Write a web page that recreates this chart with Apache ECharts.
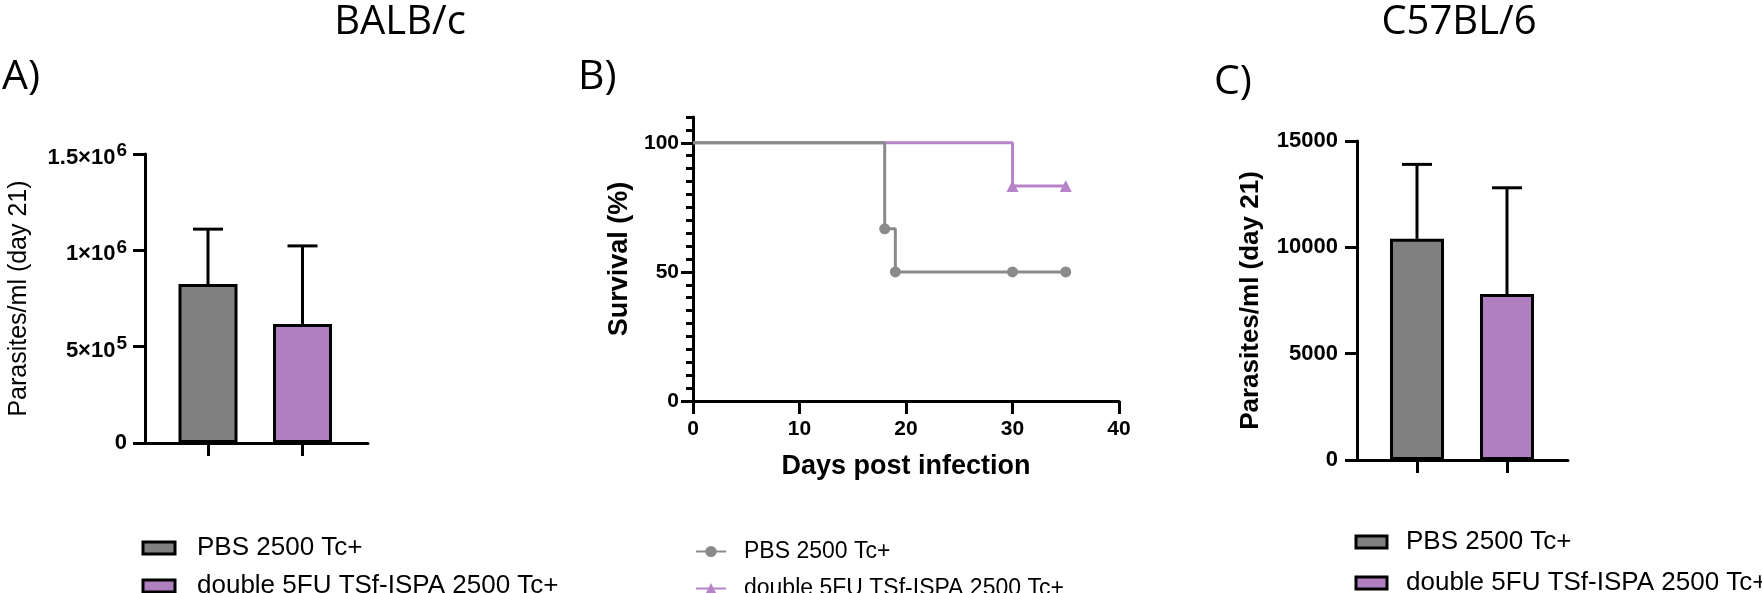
<!DOCTYPE html>
<html>
<head>
<meta charset="utf-8">
<script src="https://cdn.jsdelivr.net/npm/echarts@6/dist/echarts.min.js"></script>
<style>
  html, body { margin: 0; padding: 0; background: #fff; }
  #chart { width: 1762px; height: 593px; }
</style>
</head>
<body>
<div id="chart"></div>
<script>
// groups shown in every panel
const groupNames = ['PBS 2500 Tc+', 'double 5FU TSf-ISPA 2500 Tc+'];
const groupPos = [1, 2];

// A) BALB/c parasites/ml at day 21 (mean, SD)
const balbMean = [825000, 618000];
const balbSD = [285000, 405000];
const balbTickValues = [0, 500000, 1000000, 1500000];
const balbTickMant = ['0', '5×10', '1×10', '1.5×10'];
const balbTickExp = ['', '5', '6', '6'];

// B) survival (%)
const pbsDays = [0, 18, 19, 30, 35];
const pbsSurv = [100, 66.7, 50, 50, 50];
const fuDays = [0, 30, 35];
const fuSurv = [100, 83.3, 83.3];
const survLabels = [0, 50, 100];

// C) C57BL/6 parasites/ml at day 21 (mean, SD)
const c57Mean = [10400, 7800];
const c57SD = [3500, 5000];

const GRAY = '#808080';
const PURPLE = '#b07fc0';
const LGRAY = '#8a8a8a';
const LPURPLE = '#b784c9';
const SANS = '"Liberation Sans", Arial, sans-serif';
const TITLE = '"Open Sans", "Liberation Sans", sans-serif';

const chart = echarts.init(document.getElementById('chart'));

function axisLine() {
  return { show: true, lineStyle: { color: '#000', width: 3 } };
}

function barSeries(i, xi, means) {
  return {
    type: 'bar',
    name: groupNames[i],
    xAxisIndex: xi, yAxisIndex: xi === 0 ? 0 : 3,
    barWidth: xi === 0 ? 59 : 54,
    barGap: '-100%',
    data: [[groupPos[i], means[i]]],
    itemStyle: { color: i === 0 ? GRAY : PURPLE, borderColor: '#000', borderWidth: 3 },
    z: 2
  };
}

function errorSeries(xi, yi, means, sds) {
  return {
    type: 'custom',
    name: 'err' + xi,
    xAxisIndex: xi, yAxisIndex: yi,
    silent: true,
    z: 3,
    data: groupPos.map((x, i) => [x, means[i], means[i] + sds[i]]),
    renderItem: function (params, api) {
      const base = api.coord([api.value(0), api.value(1)]);
      const top = api.coord([api.value(0), api.value(2)]);
      const st = { stroke: '#000', lineWidth: 3 };
      return {
        type: 'group',
        children: [
          { type: 'line', shape: { x1: base[0], y1: base[1], x2: top[0], y2: top[1] }, style: st },
          { type: 'line', shape: { x1: top[0] - 15, y1: top[1], x2: top[0] + 15, y2: top[1] }, style: st }
        ]
      };
    }
  };
}

function stepData(days, surv) {
  return days.map((d, i) => i === 0 ? { value: [d, surv[i]], symbol: 'none' } : [d, surv[i]]);
}

const option = {
  animation: false,
  backgroundColor: '#fff',
  grid: [
    { left: 145, top: 154, width: 223, height: 289 },
    { left: 693, top: 117, width: 426, height: 284 },
    { left: 1357, top: 141, width: 211, height: 319 }
  ],
  xAxis: [
    {
      gridIndex: 0, type: 'value', min: 1 / 3, max: 2.693,
      axisLine: axisLine(), splitLine: { show: false },
      axisTick: { show: true, customValues: groupPos, length: 13, lineStyle: { width: 3, color: '#000' } },
      axisLabel: { show: false }
    },
    {
      gridIndex: 1, type: 'value', min: 0, max: 40, interval: 10,
      axisLine: axisLine(), splitLine: { show: false },
      axisTick: { length: 13, lineStyle: { width: 3, color: '#000' } },
      axisLabel: { margin: 18, color: '#000', fontSize: 21, fontWeight: 'bold', fontFamily: SANS },
      name: 'Days post infection', nameLocation: 'middle', nameGap: 52,
      nameTextStyle: { color: '#000', fontSize: 27, fontWeight: 'bold', fontFamily: SANS }
    },
    {
      gridIndex: 2, type: 'value', min: 1 / 3, max: 2.678,
      axisLine: axisLine(), splitLine: { show: false },
      axisTick: { show: true, customValues: groupPos, length: 13, lineStyle: { width: 3, color: '#000' } },
      axisLabel: { show: false }
    }
  ],
  yAxis: [
    {
      gridIndex: 0, type: 'value', min: 0, max: 1500000, interval: 500000,
      axisLine: axisLine(), splitLine: { show: false },
      axisTick: { length: 12, lineStyle: { width: 3, color: '#000' } },
      axisLabel: {
        margin: 18,
        formatter: function (v) {
          const i = balbTickValues.indexOf(v);
          if (i < 0) return '';
          return balbTickExp[i] ? '{m|' + balbTickMant[i] + '}{s|' + balbTickExp[i] + '}' : '{z|' + balbTickMant[i] + '}';
        },
        rich: {
          z: { fontSize: 22, fontWeight: 'bold', fontFamily: SANS, color: '#000' },
          m: { fontSize: 22, fontWeight: 'bold', fontFamily: SANS, color: '#000', lineHeight: 22, padding: [8, 0, 0, 0] },
          s: { fontSize: 19, fontWeight: 'bold', fontFamily: SANS, color: '#000', lineHeight: 19, padding: [0, 0, 6, 1] }
        }
      },
      name: 'Parasites/ml (day 21)', nameLocation: 'middle', nameGap: 113,
      nameTextStyle: { color: '#000', fontSize: 25, fontFamily: SANS }
    },
    {
      gridIndex: 1, type: 'value', min: 0, max: 110, interval: 5,
      axisLine: axisLine(), splitLine: { show: false },
      axisTick: { length: 7, lineStyle: { width: 3, color: '#000' } },
      axisLabel: {
        margin: 14, color: '#000', fontSize: 21, fontWeight: 'bold', fontFamily: SANS,
        formatter: v => survLabels.indexOf(v) >= 0 ? String(v) : ''
      },
      name: 'Survival (%)', nameLocation: 'middle', nameGap: 60,
      nameTextStyle: { color: '#000', fontSize: 27, fontWeight: 'bold', fontFamily: SANS }
    },
    {
      gridIndex: 1, type: 'value', min: 0, max: 110, position: 'left',
      axisLine: { show: false }, splitLine: { show: false },
      axisTick: { show: true, customValues: survLabels, length: 12, lineStyle: { width: 3, color: '#000' } },
      axisLabel: { show: false }
    },
    {
      gridIndex: 2, type: 'value', min: 0, max: 15000, interval: 5000,
      axisLine: axisLine(), splitLine: { show: false },
      axisTick: { length: 12, lineStyle: { width: 3, color: '#000' } },
      axisLabel: { margin: 19, color: '#000', fontSize: 22, fontWeight: 'bold', fontFamily: SANS, formatter: v => String(v) },
      name: 'Parasites/ml (day 21)', nameLocation: 'middle', nameGap: 93,
      nameTextStyle: { color: '#000', fontSize: 26, fontWeight: 'bold', fontFamily: SANS }
    }
  ],
  legend: [
    {
      left: 136.5, top: 530, height: 120, orient: 'vertical', itemGap: 12,
      itemWidth: 32, itemHeight: 12, icon: 'rect',
      data: groupNames,
      itemStyle: { borderColor: '#000', borderWidth: 3 },
      textStyle: { color: '#000', fontSize: 26, fontFamily: SANS, padding: [0, 0, 0, 17] }
    },
    {
      left: 690, top: 535, height: 120, orient: 'vertical', itemGap: 14,
      itemWidth: 30, itemHeight: 14,
      data: groupNames.map(n => 'km:' + n),
      formatter: n => n.replace('km:', ''),
      textStyle: { color: '#000', fontSize: 23, fontFamily: SANS, padding: [0, 0, 0, 13] }
    },
    {
      left: 1349.5, top: 524, height: 120, orient: 'vertical', itemGap: 15,
      itemWidth: 31, itemHeight: 12, icon: 'rect',
      data: groupNames,
      itemStyle: { borderColor: '#000', borderWidth: 3 },
      textStyle: { color: '#000', fontSize: 26, fontFamily: SANS, padding: [0, 0, 0, 14] }
    }
  ],
  graphic: [
    { type: 'text', x: 400, y: 23, style: { text: 'BALB/c', font: '40px ' + TITLE, fill: '#000', textAlign: 'center', textVerticalAlign: 'middle' } },
    { type: 'text', x: 1459, y: 23, style: { text: 'C57BL/6', font: '40px ' + TITLE, fill: '#000', textAlign: 'center', textVerticalAlign: 'middle' } },
    { type: 'text', x: 2, y: 77, style: { text: 'A)', font: '41px ' + TITLE, fill: '#000', textAlign: 'left', textVerticalAlign: 'middle' } },
    { type: 'text', x: 578, y: 77, style: { text: 'B)', font: '41px ' + TITLE, fill: '#000', textAlign: 'left', textVerticalAlign: 'middle' } },
    { type: 'text', x: 1214, y: 82, style: { text: 'C)', font: '41px ' + TITLE, fill: '#000', textAlign: 'left', textVerticalAlign: 'middle' } }
  ],
  series: [
    barSeries(0, 0, balbMean),
    barSeries(1, 0, balbMean),
    errorSeries(0, 0, balbMean, balbSD),
    {
      type: 'line', name: 'km:' + groupNames[1], xAxisIndex: 1, yAxisIndex: 1,
      step: 'end', data: stepData(fuDays, fuSurv),
      symbol: 'triangle', symbolSize: 12, showAllSymbol: true,
      lineStyle: { color: LPURPLE, width: 3 }, itemStyle: { color: LPURPLE }, z: 3
    },
    {
      type: 'line', name: 'km:' + groupNames[0], xAxisIndex: 1, yAxisIndex: 1,
      step: 'end', data: stepData(pbsDays, pbsSurv),
      symbol: 'circle', symbolSize: 11, showAllSymbol: true,
      lineStyle: { color: LGRAY, width: 3 }, itemStyle: { color: LGRAY }, z: 4
    },
    barSeries(0, 2, c57Mean),
    barSeries(1, 2, c57Mean),
    errorSeries(2, 3, c57Mean, c57SD)
  ]
};

chart.setOption(option);
</script>
</body>
</html>
